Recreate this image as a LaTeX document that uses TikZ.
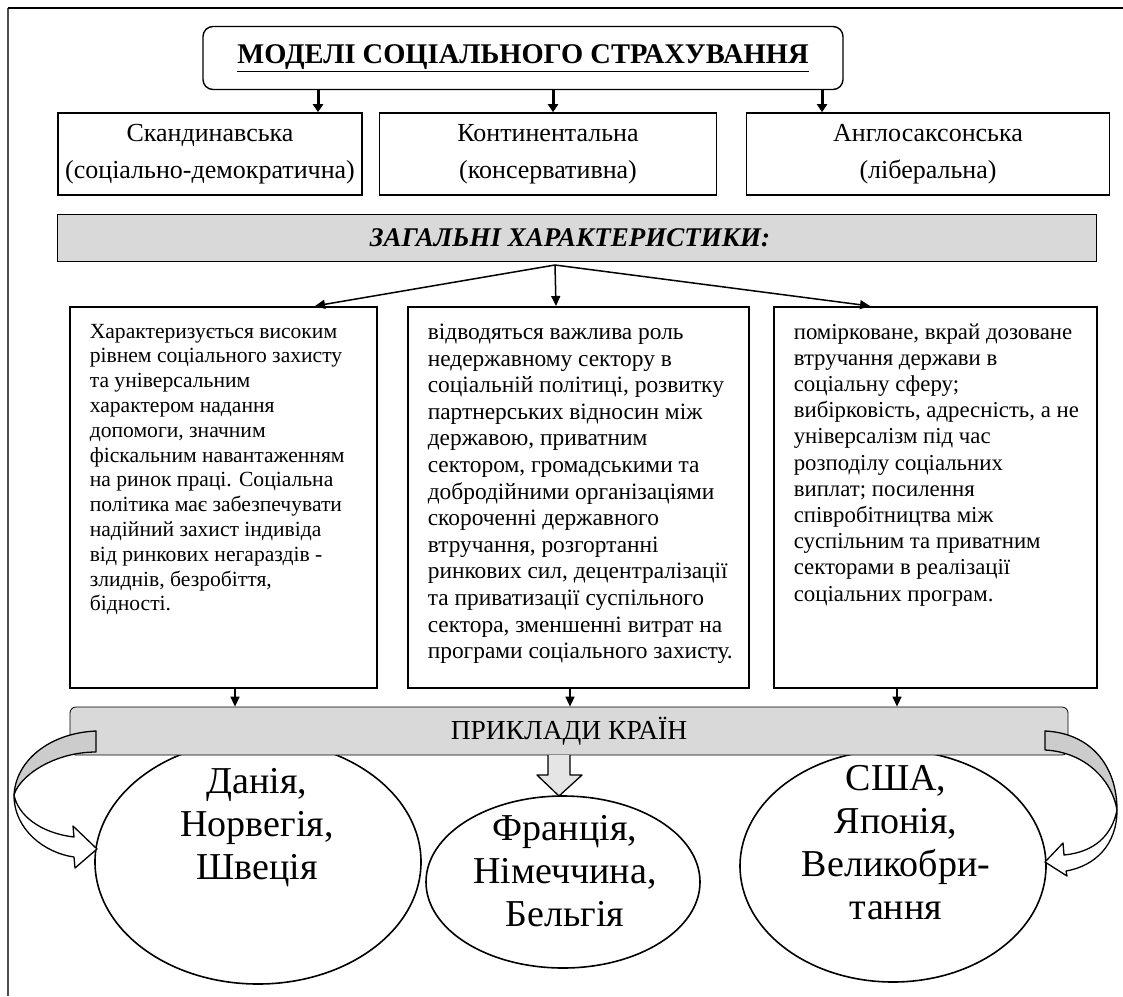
\documentclass[tikz,border=0pt]{standalone}
\usepackage{fontspec}
\setmainfont{Liberation Serif}
\usetikzlibrary{positioning, arrows.meta, shapes.geometric}
\tikzset{
    >={Triangle[width=9pt,length=10pt]},
    frame/.style={line width=1.2pt, black!70},
    titlebox/.style={draw, line width=1.4pt, rounded corners=10pt, minimum width=640pt, minimum height=63pt,
        font=\fontsize{28.5}{30}\selectfont\bfseries},
    modelbox/.style={draw, line width=1.6pt, minimum height=82pt, align=center,
        font=\fontsize{26}{37}\selectfont},
    graybar/.style={draw, line width=0.8pt, fill=black!15, minimum height=47pt},
    descbox/.style={draw, line width=1.6pt, anchor=north west, inner xsep=20pt, inner ysep=14pt},
    country/.style={draw, line width=1.6pt, ellipse, fill=white, inner sep=0pt},
    countrytext/.style={align=center, font=\fontsize{38}{43}\selectfont},
    heavy/.style={line width=3pt, -{Triangle[width=10pt,length=8pt]}},
    thin arrow/.style={line width=1.5pt, ->},
    bent arrow/.style={line width=1.3pt, line join=round},
}
% fixed box, lines set as given
\newcommand{\desc}[2]{\parbox[t][353pt][t]{#1}{\begin{tabular}[t]{@{}l@{}}#2\end{tabular}}}

\begin{document}
\begin{tikzpicture}[x=1pt, y=-1pt]
\useasboundingbox (0,0) rectangle (1123,996);

% frame
\draw[frame] (8,996) -- (8,8);
\draw[frame, black] (8,8) -- (1123,8);

% title
\node[titlebox] (title) at (523,58) {\underline{МОДЕЛІ СОЦІАЛЬНОГО СТРАХУВАННЯ}};

% models
\node[modelbox, minimum width=304pt] (scand) at (210,154) {Скандинавська\\(соціально-демократична)};
\node[modelbox, minimum width=337pt] (cont) at (548,154) {Континентальна\\(консервативна)};
\node[modelbox, minimum width=363pt] (anglo) at (928,154) {Англосаксонська\\(ліберальна)};

\coordinate (m1) at (318,0);
\coordinate (m2) at (553,0);
\coordinate (m3) at (822,0);
\draw[heavy] (title.south -| m1) -- (scand.north -| m1);
\draw[heavy] (title.south -| m2) -- (cont.north -| m2);
\draw[heavy] (title.south -| m3) -- (anglo.north -| m3);

% general features
\node[graybar, minimum width=1039pt, font=\fontsize{27}{29}\selectfont\bfseries\itshape] (general) at (577,238)
    {\hspace*{-14pt}ЗАГАЛЬНІ ХАРАКТЕРИСТИКИ:};

\node[descbox, font=\fontsize{21.6}{24.8}\selectfont] (d1) at (69,306) {\desc{267pt}{%
Характеризується високим\\
рівнем соціального захисту\\
та універсальним\\
характером надання\\
допомоги, значним\\
фіскальним навантаженням\\
на ринок праці. Соціальна\\
політика має забезпечувати\\
надійний захист індивіда\\
від ринкових негараздів -\\
злиднів, безробіття,\\
бідності.}};
\node[descbox, font=\fontsize{23.4}{26.6}\selectfont] (d2) at (407,306) {\desc{301pt}{%
відводяться важлива роль\\
недержавному сектору в\\
соціальній політиці, розвитку\\
партнерських відносин між\\
державою, приватним\\
сектором, громадськими та\\
добродійними організаціями\\
скороченні державного\\
втручання, розгортанні\\
ринкових сил, децентралізації\\
та приватизації суспільного\\
сектора, зменшенні витрат на\\
програми соціального захисту.}};
\node[descbox, font=\fontsize{22.8}{26.2}\selectfont] (d3) at (773,306) {\desc{283pt}{%
помірковане, вкрай дозоване\\
втручання держави в\\
соціальну сферу;\\
вибірковість, адресність, а не\\
універсалізм під час\\
розподілу соціальних\\
виплат; посилення\\
співробітництва між\\
суспільним та приватним\\
секторами в реалізації\\
соціальних програм.}};

\coordinate (hub) at (555,265);
\coordinate (t1) at (315,0);
\coordinate (t2) at (556,0);
\coordinate (t3) at (870,0);
\draw[thin arrow] (hub) -- (d1.north -| t1);
\draw[thin arrow] (hub) -- (d2.north -| t2);
\draw[thin arrow] (hub) -- (d3.north -| t3);

% countries
\node[country, minimum width=326pt, minimum height=244pt] (nordic) at (258,862) {};
\node[country, minimum width=274pt, minimum height=172pt] (europe) at (563,882) {};
\node[country, minimum width=306pt, minimum height=232pt] (liberal) at (893,866) {};
\node[countrytext] (nordic text) at (257,828) {Данія,\\Норвегія,\\Швеція};
\node[countrytext] (europe text) at (565,871) {Франція,\\Німеччина,\\Бельгія};
\node[countrytext] (liberal text) at (896,843) {США,\\Японія,\\Великобри-\\тання};

\node[graybar, rounded corners=6pt, minimum width=998pt, minimum height=48pt, font=\fontsize{27.5}{29}\selectfont]
    (examples) at (569,731) {ПРИКЛАДИ КРАЇН};

\coordinate (b1) at (235,0);
\coordinate (b2) at (570,0);
\coordinate (b3) at (897,0);
\draw[thin arrow] (d1.south -| b1) -- (examples.north -| b1);
\draw[thin arrow] (d2.south -| b2) -- (examples.north -| b2);
\draw[thin arrow] (d3.south -| b3) -- (examples.north -| b3);

% block arrows
\draw[bent arrow, fill=black!10] (548,755) -- (548,775) -- (537,775) -- (559,796) -- (582,775) -- (570,775) -- (570,755);

\draw[bent arrow, fill=black!20] (96,731) .. controls (50,733) and (16,760) .. (14,795)
    .. controls (20,775) and (55,752) .. (96,752) -- cycle;
\draw[bent arrow, fill=white] (14,795) .. controls (14,830) and (45,853) .. (74,857)
    -- (75,868) -- (97,849) -- (73,826) -- (74,837)
    .. controls (40,833) and (18,815) .. (14,795) -- cycle;

\draw[bent arrow, fill=black!20] (1045,731) .. controls (1090,733) and (1117,765) .. (1117,810)
    .. controls (1112,780) and (1085,752) .. (1045,750) -- cycle;
\draw[bent arrow, fill=white] (1117,810) .. controls (1117,845) and (1095,866) .. (1066,871)
    -- (1067,876) -- (1045,862) -- (1063,843) -- (1064,855)
    .. controls (1095,852) and (1112,835) .. (1117,810) -- cycle;

\end{tikzpicture}
\end{document}
